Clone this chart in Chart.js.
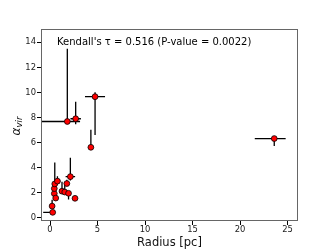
<!DOCTYPE html>
<html>
<head>
<meta charset="utf-8">
<script src="https://cdn.jsdelivr.net/npm/chart.js@4.4.1/dist/chart.umd.min.js"></script>
<style>
html,body{margin:0;padding:0;background:#fff;}
#c{display:block;}
</style>
</head>
<body>
<canvas id="c" width="331" height="249" style="width:331px;height:249px"></canvas>
<script>
// Data
const radius  = [0.28, 0.22, 0.45, 0.45, 0.50, 0.60, 0.78, 1.26, 1.55, 1.77, 1.95, 2.14, 2.63, 1.82, 2.70, 4.74, 4.30, 23.60];
const alphaVir= [0.43, 0.93, 1.93, 2.33, 2.70, 1.57, 2.92, 2.12, 2.05, 2.73, 1.95, 3.28, 1.55, 7.68, 7.90, 9.66, 5.62, 6.32];
const xErrLo  = [1.00, 0.10, 0.05, 0.05, 0.05, 0.05, 0.25, 0.10, 0.10, 0.10, 0.10, 0.50, 0.10, 2.75, 0.55, 1.06, 0.20, 2.05];
const xErrHi  = [0.25, 0.10, 0.05, 0.05, 0.05, 0.05, 0.30, 0.10, 0.10, 0.10, 0.10, 0.50, 0.10, 1.34, 0.55, 1.05, 0.20, 1.20];
const yErrLo  = [0.10, 0.10, 0.10, 0.10, 0.10, 0.10, 0.20, 0.20, 0.10, 0.10, 0.50, 0.30, 0.10, 0.10, 0.45, 3.05, 0.15, 0.60];
const yErrHi  = [0.10, 0.50, 0.10, 0.10, 1.70, 0.10, 0.40, 0.75, 0.80, 0.30, 0.10, 1.50, 0.10, 5.80, 1.35, 0.35, 1.40, 0.10];
const xTicks  = [0, 5, 10, 15, 20, 25];
const yTicks  = [0, 2, 4, 6, 8, 10, 12, 14];
const annotation = "Kendall's \u03c4 = 0.516 (P-value = 0.0022)";
const xTitle = "Radius [pc]";

const points = radius.map((r, i) => ({x: r, y: alphaVir[i]}));

const errorBars = {
  id: 'errorBars',
  beforeDatasetsDraw(chart) {
    const {ctx, chartArea, scales: {x, y}} = chart;
    ctx.save();
    ctx.beginPath();
    ctx.rect(chartArea.left, chartArea.top, chartArea.right - chartArea.left, chartArea.bottom - chartArea.top);
    ctx.clip();
    ctx.strokeStyle = '#000';
    ctx.lineWidth = 1.3;
    for (let i = 0; i < radius.length; i++) {
      const px = x.getPixelForValue(radius[i]);
      const py = y.getPixelForValue(alphaVir[i]);
      ctx.beginPath();
      ctx.moveTo(x.getPixelForValue(radius[i] - xErrLo[i]), py);
      ctx.lineTo(x.getPixelForValue(radius[i] + xErrHi[i]), py);
      ctx.moveTo(px, y.getPixelForValue(alphaVir[i] - yErrLo[i]));
      ctx.lineTo(px, y.getPixelForValue(alphaVir[i] + yErrHi[i]));
      ctx.stroke();
    }
    ctx.restore();
  }
};

const decorations = {
  id: 'decorations',
  afterDraw(chart) {
    const {ctx, chartArea, scales: {x, y}} = chart;
    ctx.save();
    // frame
    ctx.strokeStyle = '#666';
    ctx.lineWidth = 1;
    ctx.strokeRect(Math.round(chartArea.left) + 0.5, Math.round(chartArea.top) + 0.5,
      Math.round(chartArea.right - chartArea.left) - 1, Math.round(chartArea.bottom - chartArea.top) - 1);
    // annotation
    ctx.fillStyle = '#000';
    ctx.font = '10px "DejaVu Sans"';
    ctx.textBaseline = 'middle';
    ctx.textAlign = 'left';
    ctx.fillText(annotation, x.getPixelForValue(0.74), y.getPixelForValue(14.0));
    // x title
    ctx.font = '11.5px "DejaVu Sans"';
    ctx.textAlign = 'center';
    ctx.fillStyle = '#111';
    ctx.fillText(xTitle, (chartArea.left + chartArea.right) / 2, 243);
    // y title: alpha with subscript vir
    ctx.translate(17, 126);
    ctx.rotate(-Math.PI / 2);
    ctx.textAlign = 'left';
    ctx.font = 'italic 12px "DejaVu Sans"';
    const wa = ctx.measureText('\u03b1').width;
    ctx.font = 'italic 8.5px "DejaVu Sans"';
    const wv = ctx.measureText('vir').width;
    const start = -(wa + wv) / 2;
    ctx.font = 'italic 12px "DejaVu Sans"';
    ctx.fillText('\u03b1', start, 0);
    ctx.font = 'italic 8.5px "DejaVu Sans"';
    ctx.fillText('vir', start + wa, 3);
    ctx.restore();
  }
};

new Chart(document.getElementById('c'), {
  type: 'scatter',
  data: {
    datasets: [{
      data: points,
      backgroundColor: '#ff0000',
      borderColor: '#000',
      borderWidth: 0.8,
      pointRadius: 2.9,
      pointHoverRadius: 2.9
    }]
  },
  options: {
    responsive: false,
    animation: false,
    events: [],
    layout: {padding: {left: 0, top: 29, right: 33, bottom: 0}},
    plugins: {legend: {display: false}, tooltip: {enabled: false}, title: {display: false}},
    scales: {
      x: {
        type: 'linear',
        min: -0.95, max: 26.1,
        afterFit(s) { s.height = 28; },
        afterBuildTicks(s) { s.ticks = xTicks.map(v => ({value: v})); },
        border: {display: false},
        grid: {drawOnChartArea: false, drawTicks: true, tickLength: 4, tickColor: '#000', tickWidth: 1},
        ticks: {color: '#222', font: {family: 'DejaVu Sans', size: 8.4}, padding: 0, maxRotation: 0, autoSkip: false}
      },
      y: {
        type: 'linear',
        min: -0.26, max: 15.06,
        afterFit(s) { s.width = 41; },
        afterBuildTicks(s) { s.ticks = yTicks.map(v => ({value: v})); },
        border: {display: false},
        grid: {drawOnChartArea: false, drawTicks: true, tickLength: 4, tickColor: '#000', tickWidth: 1},
        ticks: {color: '#222', font: {family: 'DejaVu Sans', size: 8.4}, padding: 1, autoSkip: false}
      }
    }
  },
  plugins: [errorBars, decorations]
});
</script>
</body>
</html>
